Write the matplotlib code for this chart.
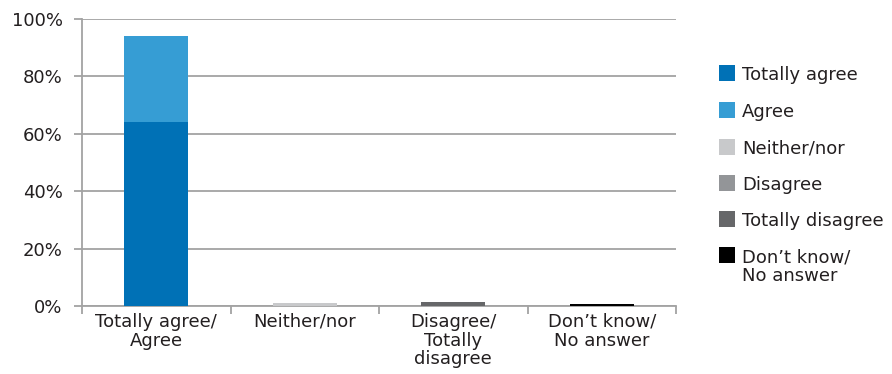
import matplotlib
matplotlib.use("Agg")
import matplotlib.pyplot as plt
from matplotlib.patches import Rectangle
import numpy as np

categories = ["Totally agree/\nAgree", "Neither/nor", "Disagree/\nTotally\ndisagree", "Don\u2019t know/\nNo answer"]
series_names = ["Totally agree", "Agree", "Neither/nor", "Disagree", "Totally disagree", "Don\u2019t know/\nNo answer"]
totally_agree = [64.1, 0, 0, 0]
agree = [30.0, 0, 0, 0]
neither_nor = [0, 1.1, 0, 0]
disagree = [0, 0, 0, 0]
totally_disagree = [0, 0, 1.4, 0]
dont_know = [0, 0, 0, 0.8]
y_ticks = [0, 20, 40, 60, 80, 100]

colors = ["#0071b6", "#369dd4", "#c8c9cb", "#939598", "#666769", "#000000"]
grid_color = "#a3a3a3"
text_color = "#231f20"

plt.rcParams["font.family"] = ["DejaVu Sans"]

W, H = 892, 374
fig = plt.figure(figsize=(W / 100, H / 100), dpi=100)
ax = fig.add_axes([82 / W, 1 - 306 / H, (676 - 82) / W, (306 - 19) / H])

x = np.arange(len(categories))
bottom = np.zeros(len(categories))
all_series = [totally_agree, agree, neither_nor, disagree, totally_disagree, dont_know]
for vals, col in zip(all_series, colors):
    vals = np.array(vals, dtype=float)
    ax.bar(x, vals, width=0.43, bottom=bottom, color=col, linewidth=0, zorder=3)
    bottom += vals

ax.set_xlim(-0.5, len(categories) - 0.5)
ax.set_ylim(0, 100)
ax.set_yticks(y_ticks)
ax.set_yticklabels([f"{v}%" for v in y_ticks])
ax.yaxis.grid(True, color=grid_color, linewidth=1.3, zorder=0)
ax.set_axisbelow(True)

ax.set_xticks(x)
ax.set_xticklabels(categories, fontsize=13, linespacing=1.05, color=text_color)
ax.set_xticks(np.arange(-0.5, len(categories)), minor=True)
ax.tick_params(axis="x", which="major", length=0, pad=5)
ax.tick_params(axis="x", which="minor", length=6, width=1.3, color=grid_color, direction="out")
ax.tick_params(axis="y", length=6, width=1.3, color=grid_color, pad=8, labelsize=13,
               labelcolor=text_color)

for s in ["top", "right"]:
    ax.spines[s].set_visible(False)
for s in ["left", "bottom"]:
    ax.spines[s].set_color(grid_color)
    ax.spines[s].set_linewidth(1.3)

# Legend drawn as swatches plus labels in figure pixel space
row_centers = [73, 110, 147, 183, 219, 255]
sw = 16
for yc, name, col in zip(row_centers, series_names, colors):
    fig.patches.append(Rectangle(((719) / W, 1 - (yc + sw / 2) / H), sw / W, sw / H,
                                 transform=fig.transFigure, facecolor=col,
                                 edgecolor="none"))
    fig.text(742 / W, 1 - (yc - 7) / H, name, fontsize=13, color=text_color,
             ha="left", va="top", linespacing=1.05)

fig.savefig("out.png", dpi=100)
